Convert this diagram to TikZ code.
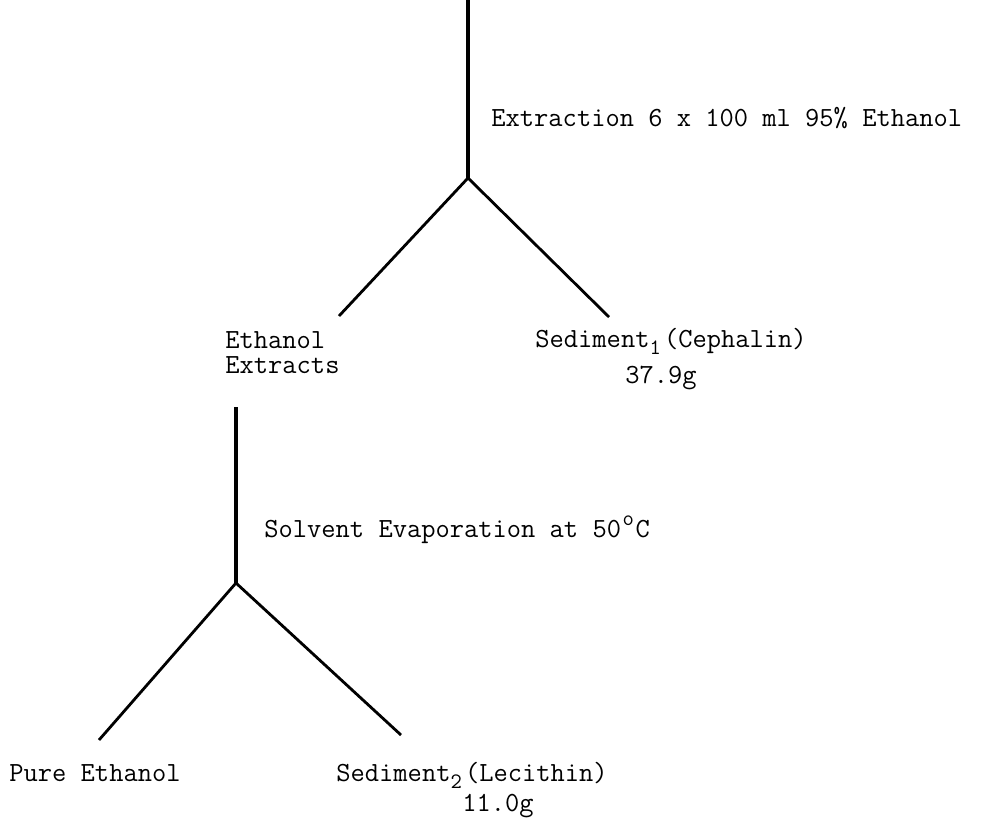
\documentclass[tikz,border=0pt]{standalone}
% typewriter-style half-line shifts: each shifted mark fills one character cell
\newcommand{\lowidx}[1]{\makebox[0.525em][l]{\raisebox{-0.6ex}{\fontsize{11}{11}\selectfont #1}}}
\newcommand{\highidx}[1]{\makebox[0.525em][c]{\raisebox{1.0ex}{\fontsize{11}{11}\selectfont #1}}}
\begin{document}
\begin{tikzpicture}[x=0.5pt,y=-0.5pt,
  stem/.style={line width=1.7pt},
  branch/.style={line width=1.4pt},
  lbl/.style={font=\ttfamily\fontsize{13.85}{16}\selectfont, inner sep=0pt, anchor=base west}]
\useasboundingbox (0,0) rectangle (989,820);

% first separation step
\coordinate (top1) at (468,0);
\coordinate (j1) at (468,178);
\coordinate (l1) at (339,316);
\coordinate (r1) at (609,317);
\draw[stem] (top1) -- (j1);
\draw[branch] (l1) -- (j1) -- (r1);
\node[lbl] (extr) at (491,126) {Extraction 6 x 100 ml 95\% Ethanol};
\node[lbl] (eth) at (225,348) {Ethanol};
\node[lbl] (ethx) at (225,373) {Extracts};
\node[lbl] (sed1) at (535,347) {Sediment\lowidx{1}(Cephalin)};
\node[lbl] (m1) at (625,383) {37.9g};

% second separation step
\coordinate (top2) at (236,407);
\coordinate (j2) at (236,583);
\coordinate (l2) at (99,740);
\coordinate (r2) at (401,735);
\draw[stem] (top2) -- (j2);
\draw[branch] (l2) -- (j2) -- (r2);
\node[lbl] (evap) at (264,537) {Solvent Evaporation at 50\highidx{o}C};
\node[lbl] (pure) at (9,781) {Pure Ethanol};
\node[lbl] (sed2) at (336,781) {Sediment\lowidx{2}(Lecithin)};
\node[lbl] (m2) at (462,811) {11.0g};
\end{tikzpicture}
\end{document}
